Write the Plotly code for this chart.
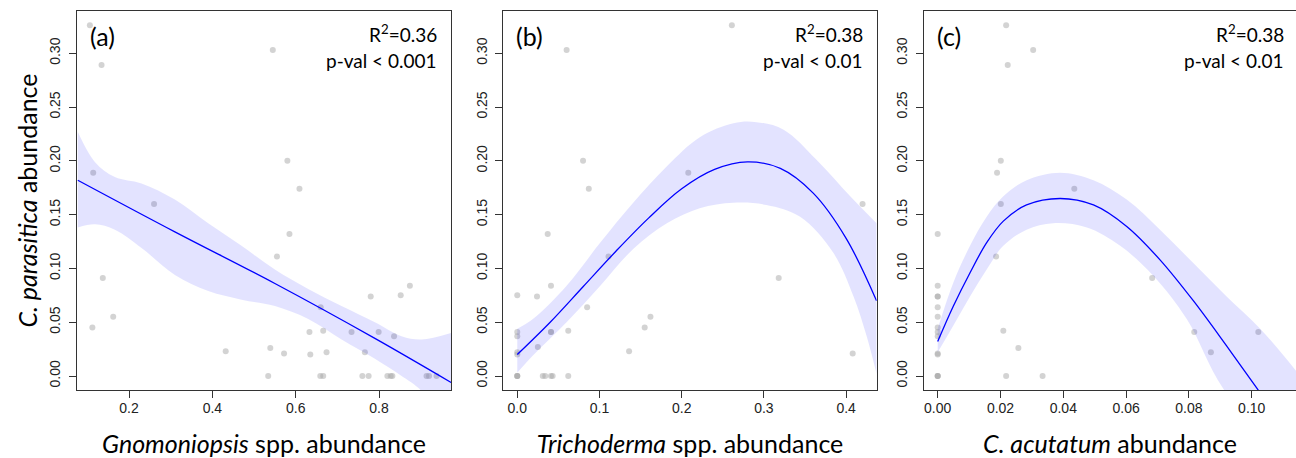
import plotly.graph_objects as go

# ---------------- data ----------------
y_ticks = [0.00, 0.05, 0.10, 0.15, 0.20, 0.25, 0.30]
y_tick_labels = ["0.00", "0.05", "0.10", "0.15", "0.20", "0.25", "0.30"]

a_ticks = [0.2, 0.4, 0.6, 0.8]
a_tick_labels = ["0.2", "0.4", "0.6", "0.8"]
b_ticks = [0.0, 0.1, 0.2, 0.3, 0.4]
b_tick_labels = ["0.0", "0.1", "0.2", "0.3", "0.4"]
c_ticks = [0.00, 0.02, 0.04, 0.06, 0.08, 0.10]
c_tick_labels = ["0.00", "0.02", "0.04", "0.06", "0.08", "0.10"]

# (a) Gnomoniopsis spp.
a_x = [0.106, 0.134, 0.114, 0.260, 0.545, 0.580, 0.609, 0.585, 0.555, 0.137,
       0.162, 0.112, 0.432, 0.539, 0.572, 0.534, 0.633, 0.635, 0.660, 0.666,
       0.674, 0.659, 0.666, 0.734, 0.766, 0.760, 0.775, 0.780, 0.799, 0.836,
       0.820, 0.828, 0.832, 0.852, 0.874, 0.914, 0.920, 0.938]
a_y = [0.326, 0.289, 0.189, 0.160, 0.303, 0.200, 0.174, 0.132, 0.111, 0.091,
       0.055, 0.045, 0.023, 0.026, 0.021, 0.000, 0.041, 0.020, 0.064, 0.042,
       0.022, 0.000, 0.000, 0.041, 0.022, 0.000, 0.000, 0.074, 0.041, 0.037,
       0.000, 0.000, 0.000, 0.075, 0.084, 0.000, 0.000, 0.000]
a_fit_x = [0.077, 0.310, 0.550, 0.790, 0.973]
a_fit_y = [0.182, 0.134, 0.086, 0.035, -0.006]
a_up_x = [0.077, 0.118, 0.166, 0.230, 0.310, 0.390, 0.470, 0.550, 0.630, 0.710, 0.790, 0.854, 0.902, 0.973]
a_up_y = [0.227, 0.199, 0.185, 0.179, 0.164, 0.142, 0.121, 0.099, 0.081, 0.065, 0.050, 0.037, 0.034, 0.040]
a_lo_x = [0.077, 0.118, 0.166, 0.230, 0.310, 0.390, 0.470, 0.550, 0.630, 0.710, 0.790, 0.854, 0.894, 0.973]
a_lo_y = [0.138, 0.141, 0.136, 0.119, 0.094, 0.079, 0.071, 0.065, 0.053, 0.034, 0.016, 0.000, -0.011, -0.045]

# (b) Trichoderma spp.
b_x = [0.261, 0.060, 0.080, 0.087, 0.208, 0.420, 0.037, 0.111, 0.318, 0.000,
       0.024, 0.041, 0.085, 0.162, 0.155, 0.000, 0.000, 0.041, 0.041, 0.062,
       0.025, 0.000, 0.000, 0.136, 0.408, 0.000, 0.000, 0.000, 0.031, 0.034,
       0.041, 0.043, 0.062]
b_y = [0.326, 0.303, 0.200, 0.174, 0.189, 0.160, 0.132, 0.111, 0.091, 0.075,
       0.074, 0.084, 0.064, 0.055, 0.045, 0.041, 0.037, 0.041, 0.041, 0.042,
       0.027, 0.022, 0.020, 0.023, 0.021, 0.000, 0.000, 0.000, 0.000, 0.000,
       0.000, 0.000, 0.000]
b_fit_x = [0.000, 0.040, 0.080, 0.120, 0.160, 0.200, 0.240, 0.280, 0.320, 0.360, 0.400, 0.437]
b_fit_y = [0.020, 0.050, 0.083, 0.116, 0.147, 0.174, 0.192, 0.199, 0.193, 0.170, 0.128, 0.070]
b_up_x = [0.000, 0.019, 0.060, 0.101, 0.141, 0.182, 0.222, 0.263, 0.291, 0.324, 0.364, 0.405, 0.437]
b_up_y = [0.044, 0.053, 0.084, 0.124, 0.161, 0.195, 0.222, 0.235, 0.236, 0.229, 0.201, 0.167, 0.142]
b_lo_x = [0.000, 0.019, 0.060, 0.101, 0.141, 0.182, 0.222, 0.263, 0.303, 0.344, 0.384, 0.409, 0.425, 0.437]
b_lo_y = [0.003, 0.019, 0.050, 0.084, 0.118, 0.142, 0.156, 0.161, 0.159, 0.148, 0.115, 0.074, 0.037, 0.002]

# (c) C. acutatum
c_x = [0.0218, 0.0223, 0.0304, 0.0201, 0.0189, 0.0201, 0.0435, 0.0000, 0.0186, 0.0683,
       0.0000, 0.0000, 0.0000, 0.0000, 0.0000, 0.0000, 0.0000, 0.0000, 0.0209, 0.0257,
       0.0000, 0.0000, 0.0817, 0.0870, 0.1021, 0.0000, 0.0000, 0.0000, 0.0218, 0.0334]
c_y = [0.326, 0.289, 0.303, 0.200, 0.189, 0.160, 0.174, 0.132, 0.111, 0.091,
       0.084, 0.074, 0.074, 0.064, 0.055, 0.045, 0.041, 0.037, 0.042, 0.026,
       0.021, 0.020, 0.041, 0.022, 0.041, 0.000, 0.000, 0.000, 0.000, 0.000]
c_fit_x = [0.0000, 0.0050, 0.0103, 0.0156, 0.0209, 0.0283, 0.0390, 0.0496, 0.0602, 0.0708, 0.0814, 0.0920, 0.1018, 0.1100]
c_fit_y = [0.032, 0.065, 0.096, 0.124, 0.144, 0.159, 0.165, 0.159, 0.139, 0.108, 0.070, 0.028, -0.012, -0.046]
c_up_x = [0.0000, 0.0050, 0.0103, 0.0156, 0.0209, 0.0283, 0.0390, 0.0496, 0.0602, 0.0708, 0.0814, 0.0920, 0.1027, 0.1141]
c_up_y = [0.044, 0.087, 0.121, 0.148, 0.167, 0.182, 0.189, 0.182, 0.164, 0.136, 0.105, 0.074, 0.044, 0.005]
c_lo_x = [0.0000, 0.0050, 0.0103, 0.0156, 0.0209, 0.0283, 0.0368, 0.0475, 0.0581, 0.0687, 0.0793, 0.0910, 0.1141]
c_lo_y = [0.022, 0.047, 0.074, 0.099, 0.121, 0.136, 0.142, 0.138, 0.121, 0.093, 0.053, -0.012, -0.090]

panel_labels = ["(a)", "(b)", "(c)"]
r2_labels = ["R<sup>2</sup>=0.36", "R<sup>2</sup>=0.38", "R<sup>2</sup>=0.38"]
p_labels = ["p-val &lt; 0.001", "p-val &lt; 0.01", "p-val &lt; 0.01"]
x_titles = ["<i>Gnomoniopsis</i> spp. abundance",
            "<i>Trichoderma</i> spp. abundance",
            "<i>C. acutatum</i> abundance"]
y_title = "<i>C. parasitica</i> abundance"

# ---------------- style ----------------
W, H = 1296, 458
TICK_FONT = dict(family="Liberation Sans, Arial, sans-serif", size=14, color="#222")
TEXT_FONT = "Lato, Open Sans, sans-serif"
PT_COLOR = "rgba(167,167,167,0.5)"
BAND_COLOR = "rgba(0,0,255,0.11)"
LINE_COLOR = "#0000ff"

fig = go.Figure()

panels = [
    (a_x, a_y, a_fit_x, a_fit_y, a_up_x, a_up_y, a_lo_x, a_lo_y),
    (b_x, b_y, b_fit_x, b_fit_y, b_up_x, b_up_y, b_lo_x, b_lo_y),
    (c_x, c_y, c_fit_x, c_fit_y, c_up_x, c_up_y, c_lo_x, c_lo_y),
]
for i, (px, py, fx, fy, ux, uy, lx, ly) in enumerate(panels):
    ax = "" if i == 0 else str(i + 1)
    xr, yr = "x" + ax, "y" + ax
    fig.add_trace(go.Scatter(x=px, y=py, mode="markers", xaxis=xr, yaxis=yr,
                             marker=dict(size=6, color=PT_COLOR, line=dict(width=0)),
                             showlegend=False, hoverinfo="skip"))
    fig.add_trace(go.Scatter(x=lx, y=ly, mode="lines", xaxis=xr, yaxis=yr,
                             line=dict(width=0, shape="spline", smoothing=1.0, color=BAND_COLOR),
                             showlegend=False, hoverinfo="skip"))
    fig.add_trace(go.Scatter(x=ux, y=uy, mode="lines", xaxis=xr, yaxis=yr,
                             fill="tonexty", fillcolor=BAND_COLOR,
                             line=dict(width=0, shape="spline", smoothing=1.0, color=BAND_COLOR),
                             showlegend=False, hoverinfo="skip"))
    fig.add_trace(go.Scatter(x=fx, y=fy, mode="lines", xaxis=xr, yaxis=yr,
                             line=dict(width=1.3, color=LINE_COLOR, shape="spline", smoothing=1.0),
                             showlegend=False, hoverinfo="skip"))

domains = [[77 / W, 451 / W], [503.3 / W, 876.7 / W], [924 / W, 1.0]]
x_ranges = [[0.0751, 0.9727], [-0.0170, 0.4372], [-0.00436, 0.1141]]
x_tickvals = [a_ticks, b_ticks, c_ticks]
x_ticktexts = [a_tick_labels, b_tick_labels, c_tick_labels]

axis_common = dict(showgrid=False, zeroline=False, showline=True, linecolor="#333",
                   linewidth=1, ticks="outside", ticklen=7, tickwidth=1, tickcolor="#333",
                   tickfont=TICK_FONT)

layout = dict(width=W, height=H, margin=dict(l=0, r=0, t=11, b=68),
              plot_bgcolor="white", paper_bgcolor="white", showlegend=False)

annotations = []
for i in range(3):
    ax = "" if i == 0 else str(i + 1)
    layout["xaxis" + ax] = dict(
        axis_common, domain=domains[i], range=x_ranges[i], anchor="y" + ax,
        tickmode="array", tickvals=x_tickvals[i], ticktext=x_ticktexts[i],
        mirror=True, ticklabelstandoff=-2,
        title=dict(text=x_titles[i], font=dict(family=TEXT_FONT, size=25, color="#000"),
                   standoff=22))
    ydict = dict(
        axis_common, domain=[0, 1], range=[-0.013, 0.3393], anchor="x" + ax,
        tickmode="array", tickvals=y_ticks, ticktext=y_tick_labels, tickangle=-90,
        mirror=(i < 2), ticklabelstandoff=3)
    if i == 0:
        ydict["title"] = dict(text=y_title, font=dict(family=TEXT_FONT, size=25, color="#000"),
                              standoff=2)
    layout["yaxis" + ax] = ydict

    annotations.append(dict(text=panel_labels[i], xref="x" + ax + " domain", yref="y" + ax + " domain",
                            x=0, y=(390 - 36) / 379, xshift=11, xanchor="left", yanchor="middle",
                            showarrow=False, font=dict(family=TEXT_FONT, size=25, color="#000")))
    annotations.append(dict(text=r2_labels[i], xref="x" + ax + " domain", yref="y" + ax + " domain",
                            x=1, y=(390 - 34) / 379, xshift=-12 if i < 2 else -10, xanchor="right",
                            yanchor="middle", showarrow=False,
                            font=dict(family=TEXT_FONT, size=19, color="#000")))
    annotations.append(dict(text=p_labels[i], xref="x" + ax + " domain", yref="y" + ax + " domain",
                            x=1, y=(390 - 60) / 379, xshift=-12 if i < 2 else -10, xanchor="right",
                            yanchor="middle", showarrow=False,
                            font=dict(family=TEXT_FONT, size=19, color="#000")))

layout["annotations"] = annotations
fig.update_layout(**layout)

fig.write_html("out.html", config={"displayModeBar": False},
               post_script="document.body.style.margin='0';")
